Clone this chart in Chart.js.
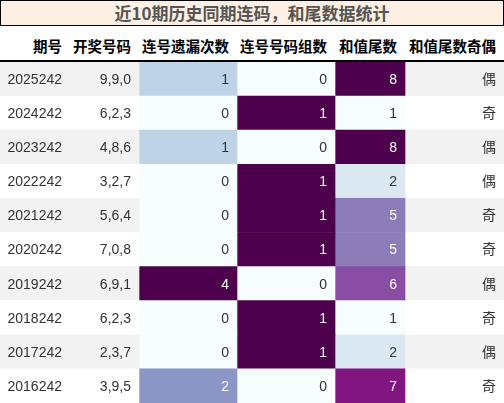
<!DOCTYPE html>
<html>
<head>
<meta charset="utf-8">
<script src="https://cdn.jsdelivr.net/npm/chart.js@4"></script>
<style>
  body { margin: 0; width: 504px; height: 403px; overflow: hidden; background: #fff; font-family: "Liberation Sans", "Noto Sans CJK SC", sans-serif; }
  #title { position: absolute; left: 0; top: 0; width: 502px; height: 24px; border: 1px solid #000; background: #fdefe2;
    text-align: center; font: bold 17px "Noto Sans CJK SC", sans-serif; line-height: 24px; color: #555; }
  #head { position: absolute; left: 0; top: 26px; width: 504px; height: 34px; border-bottom: 2px solid #000; }
  #head div { position: absolute; top: 9px; text-align: right; font: bold 14.5px "Noto Sans CJK SC", sans-serif; color: #000; }
  #wrap { position: absolute; left: 0; top: 62px; width: 504px; height: 341px; }
</style>
</head>
<body>
<div id="title">近10期历史同期连码，和尾数据统计</div>
<div id="head"></div>
<div id="wrap"><canvas id="chart"></canvas></div>
<script>
const columns = ['期号', '开奖号码', '连号遗漏次数', '连号号码组数', '和值尾数', '和值尾数奇偶'];
const periods = ['2025242', '2024242', '2023242', '2022242', '2021242', '2020242', '2019242', '2018242', '2017242', '2016242'];
const draws = ['9,9,0', '6,2,3', '4,8,6', '3,2,7', '5,6,4', '7,0,8', '6,9,1', '6,2,3', '2,3,7', '3,9,5'];
const missCounts = [1, 0, 1, 0, 0, 0, 4, 0, 0, 2];
const pairGroups = [0, 1, 0, 1, 1, 1, 0, 1, 1, 0];
const sumTails = [8, 1, 8, 2, 5, 5, 6, 1, 2, 7];
const parity = ['偶', '奇', '偶', '偶', '奇', '奇', '偶', '奇', '偶', '奇'];

const edges = [0, 70, 139, 237, 335, 405, 504];
const bupu = ['#f7fcfd', '#e0ecf4', '#bfd3e6', '#9ebcda', '#8c96c6', '#8c6bb1', '#88419d', '#810f7c', '#4d004b'];

const head = document.getElementById('head');
columns.forEach((c, i) => {
    const d = document.createElement('div');
    d.textContent = c;
    d.style.right = (504 - edges[i + 1] + 8) + 'px';
    head.appendChild(d);
});

function hex(h) { return [1, 3, 5].map(k => parseInt(h.substr(k, 2), 16)); }
function bupuColor(t) {
    const p = t * (bupu.length - 1), i = Math.min(Math.floor(p), bupu.length - 2), f = p - i;
    const a = hex(bupu[i]), b = hex(bupu[i + 1]);
    return 'rgb(' + a.map((v, k) => Math.round(v + (b[k] - v) * f)).join(',') + ')';
}
function norm(arr) {
    const mn = Math.min(...arr), mx = Math.max(...arr);
    return arr.map(v => (v - mn) / (mx - mn));
}

const stripe = periods.map((p, i) => i % 2 === 0 ? '#f2f2f2' : '#ffffff');
const cols = [
    { text: periods, bg: stripe, light: periods.map(() => false) },
    { text: draws, bg: stripe, light: periods.map(() => false) },
    { text: missCounts.map(String), bg: norm(missCounts).map(bupuColor), light: norm(missCounts).map(t => t >= 0.45) },
    { text: pairGroups.map(String), bg: norm(pairGroups).map(bupuColor), light: norm(pairGroups).map(t => t >= 0.45) },
    { text: sumTails.map(String), bg: norm(sumTails).map(bupuColor), light: norm(sumTails).map(t => t >= 0.45) },
    { text: parity, bg: stripe, light: periods.map(() => false) }
];

const datasets = cols.map((c, ci) => ({
    label: columns[ci],
    data: periods.map(() => [edges[ci], edges[ci + 1]]),
    backgroundColor: c.bg,
    borderWidth: 0,
    borderSkipped: false,
    barPercentage: 1,
    categoryPercentage: 1,
    grouped: false
}));

const cellText = {
    id: 'cellText',
    afterDatasetsDraw(chart) {
        const ctx = chart.ctx;
        ctx.save();
        ctx.textAlign = 'right';
        ctx.textBaseline = 'middle';
        chart.data.datasets.forEach((ds, di) => {
            chart.getDatasetMeta(di).data.forEach((bar, i) => {
                ctx.font = '14px "Liberation Sans", "Noto Sans CJK SC", sans-serif';
                ctx.fillStyle = cols[di].light[i] ? '#ffffff' : '#333333';
                ctx.fillText(cols[di].text[i], bar.x - 8, bar.y + 1);
            });
        });
        ctx.restore();
    }
};

new Chart(document.getElementById('chart').getContext('2d'), {
    type: 'bar',
    data: { labels: periods, datasets: datasets },
    options: {
        indexAxis: 'y',
        responsive: true,
        maintainAspectRatio: false,
        animation: false,
        layout: { padding: 0 },
        plugins: { legend: { display: false }, tooltip: { enabled: false } },
        scales: {
            x: { type: 'linear', min: 0, max: 504, display: false },
            y: { display: false }
        }
    },
    plugins: [cellText]
});
</script>
</body>
</html>
